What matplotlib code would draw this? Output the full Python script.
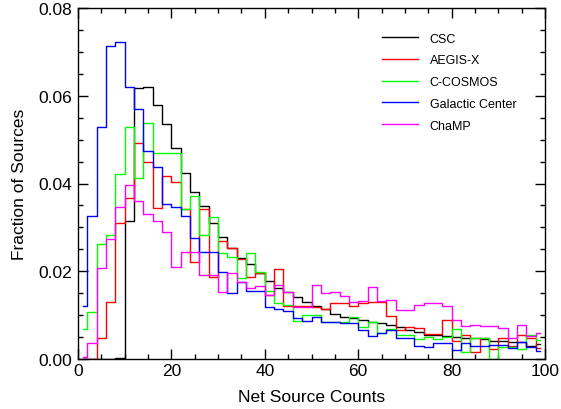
import numpy as np
import matplotlib.pyplot as plt
from matplotlib.ticker import MultipleLocator

plt.rcParams['font.family'] = ['Liberation Sans', 'DejaVu Sans']

# bin centres (2-count bins)
counts = np.arange(1, 100, 2)

csc = [0.0, 0.0, 0.0, 0.0, 0.0003, 0.0315, 0.0618, 0.0620, 0.0579, 0.0536,
       0.0480, 0.0424, 0.0381, 0.0348, 0.0310, 0.0279, 0.0253, 0.0231, 0.0217, 0.0196,
       0.0178, 0.0162, 0.0153, 0.0142, 0.0130, 0.0121, 0.0114, 0.0103, 0.0096, 0.0093,
       0.0089, 0.0085, 0.0081, 0.0078, 0.0072, 0.0067, 0.0062, 0.0055, 0.0055, 0.0053,
       0.0051, 0.0048, 0.0048, 0.0046, 0.0040, 0.0042, 0.0038, 0.0039, 0.0030, 0.0034]

aegis = [0.0, 0.0, 0.0047, 0.0130, 0.0310, 0.0368, 0.0492, 0.0450, 0.0345, 0.0418,
         0.0403, 0.0342, 0.0220, 0.0343, 0.0186, 0.0270, 0.0253, 0.0228, 0.0188, 0.0196,
         0.0147, 0.0205, 0.0121, 0.0121, 0.0121, 0.0118, 0.0115, 0.0127, 0.0127, 0.0121,
         0.0127, 0.0131, 0.0129, 0.0097, 0.0065, 0.0072, 0.0070, 0.0057, 0.0057, 0.0090,
         0.0042, 0.0055, 0.0015, 0.0047, 0.0023, 0.0047, 0.0030, 0.0055, 0.0048, 0.0024]

cosmos = [0.0068, 0.0108, 0.0262, 0.0283, 0.0422, 0.0528, 0.0412, 0.0539, 0.0469, 0.0469,
          0.0469, 0.0342, 0.0371, 0.0283, 0.0323, 0.0242, 0.0232, 0.0185, 0.0242, 0.0199,
          0.0156, 0.0127, 0.0123, 0.0087, 0.0101, 0.0101, 0.0085, 0.0085, 0.0085, 0.0096,
          0.0074, 0.0085, 0.0060, 0.0068, 0.0055, 0.0055, 0.0046, 0.0051, 0.0046, 0.0051,
          0.0068, 0.0015, 0.0049, 0.0047, 0.0, 0.0028, 0.0027, 0.0023, 0.0055, 0.0044]

galactic = [0.0121, 0.0327, 0.0528, 0.0713, 0.0722, 0.0621, 0.0569, 0.0473, 0.0437, 0.0353,
            0.0347, 0.0327, 0.0275, 0.0243, 0.0245, 0.0198, 0.0150, 0.0175, 0.0156, 0.0156,
            0.0118, 0.0114, 0.0110, 0.0093, 0.0086, 0.0095, 0.0084, 0.0084, 0.0083, 0.0083,
            0.0065, 0.0053, 0.0060, 0.0066, 0.0047, 0.0047, 0.0030, 0.0027, 0.0036, 0.0036,
            0.0021, 0.0036, 0.0029, 0.0029, 0.0032, 0.0032, 0.0024, 0.0038, 0.0028, 0.0019]

champ = [0.0005, 0.0036, 0.0207, 0.0273, 0.0346, 0.0397, 0.0359, 0.0330, 0.0315, 0.0289,
         0.0210, 0.0243, 0.0243, 0.0191, 0.0191, 0.0152, 0.0196, 0.0176, 0.0161, 0.0167,
         0.0146, 0.0169, 0.0152, 0.0118, 0.0118, 0.0169, 0.0150, 0.0153, 0.0144, 0.0129,
         0.0133, 0.0165, 0.0133, 0.0135, 0.0112, 0.0111, 0.0123, 0.0127, 0.0127, 0.0121,
         0.0090, 0.0075, 0.0078, 0.0076, 0.0075, 0.0070, 0.0049, 0.0078, 0.0052, 0.0059]

series = [('CSC', csc, 'black'),
          ('AEGIS-X', aegis, '#ff0000'),
          ('C-COSMOS', cosmos, '#00ff00'),
          ('Galactic Center', galactic, '#0000ff'),
          ('ChaMP', champ, '#ff00ff')]

fig = plt.figure(figsize=(5.61, 4.10), dpi=100)
ax = fig.add_axes([78 / 561, 50 / 410, 467 / 561, 351 / 410])

for name, vals, col in series:
    ax.step(counts, vals, where='mid', color=col, lw=1.0, label=name)

ax.set_xlim(0, 100)
ax.set_ylim(0, 0.08)
ax.xaxis.set_major_locator(MultipleLocator(20))
ax.xaxis.set_minor_locator(MultipleLocator(5))
ax.yaxis.set_major_locator(MultipleLocator(0.02))
ax.yaxis.set_minor_locator(MultipleLocator(0.005))
ax.yaxis.set_major_formatter(plt.FormatStrFormatter('%.2f'))
ax.tick_params(which='both', direction='in', top=True, right=True, width=1.0,
               labelsize=12.5)
ax.tick_params(which='major', length=7)
ax.tick_params(which='minor', length=3.6)
ax.tick_params(axis='x', pad=3)
ax.tick_params(axis='y', pad=4)
for sp in ax.spines.values():
    sp.set_linewidth(1.0)

ax.set_xlabel('Net Source Counts', fontsize=12.5)
ax.set_ylabel('Fraction of Sources', fontsize=12.5)
ax.xaxis.set_label_coords(0.5, -0.085)
ax.yaxis.set_label_coords(-0.11, 0.5)

ax.legend(loc='upper left', bbox_to_anchor=(0.651, 0.93), frameon=False,
          fontsize=9, handlelength=2.9, handletextpad=0.9, labelspacing=0.78,
          borderpad=0, borderaxespad=0)

fig.savefig('out.png', dpi=100)
